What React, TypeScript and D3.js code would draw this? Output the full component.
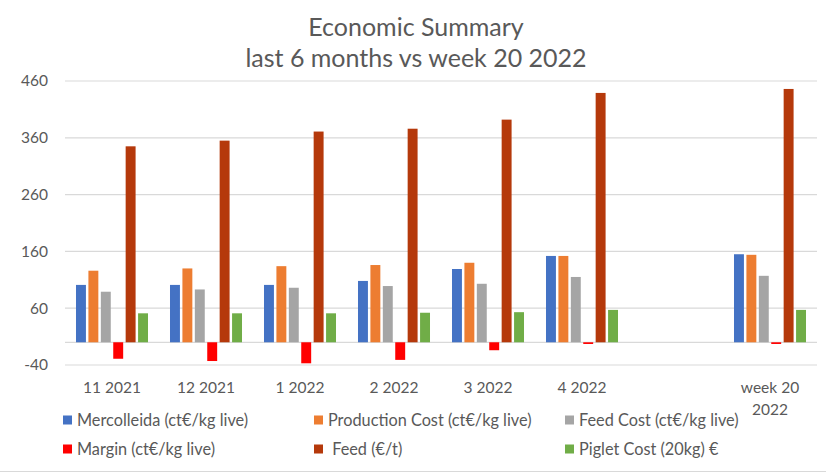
import React from "react";
import * as d3 from "d3";

const categories = ["11 2021", "12 2021", "1 2022", "2 2022", "3 2022", "4 2022", "", "week 20 2022"];
const categoryLines = [["11 2021"], ["12 2021"], ["1 2022"], ["2 2022"], ["3 2022"], ["4 2022"], [], ["week 20", "2022"]];

const mercolleida = [101, 101, 101, 108, 129, 152, null, 155];
const productionCost = [126, 130, 134, 136, 140, 152, null, 154];
const feedCost = [89, 93, 96, 99, 103, 115, null, 117];
const margin = [-29, -33, -37, -31, -14, -3, null, -3];
const feed = [345, 355, 371, 376, 392, 439, null, 446];
const pigletCost = [51, 51, 51, 52, 53, 57, null, 57];

const seriesNames = [
  "Mercolleida (ct€/kg live)",
  "Production Cost (ct€/kg live)",
  "Feed Cost (ct€/kg live)",
  "Margin (ct€/kg live)",
  " Feed (€/t)",
  "Piglet Cost (20kg) €",
];
const seriesValues = [mercolleida, productionCost, feedCost, margin, feed, pigletCost];
const colors = ["#4472C4", "#ED7D31", "#A5A5A5", "#FF0000", "#B5390B", "#70AD47"];
const yTicks = [-40, 60, 160, 260, 360, 460];

const W = 826;
const H = 473;
const FONT = "Lato, 'Open Sans', sans-serif";
const TXT = "#595959";

export default function App() {
  const x0 = d3
    .scaleBand<number>()
    .domain(categories.map((_, i) => i))
    .range([65, 817])
    .paddingInner(0.234)
    .paddingOuter(0.117);
  const x1 = d3
    .scaleBand<number>()
    .domain(seriesNames.map((_, i) => i))
    .range([0, x0.bandwidth()])
    .paddingInner(0.2);
  const y = d3.scaleLinear().domain([-40, 460]).range([365, 81]);

  const legendCols = [63, 314, 565];
  const legendRows = [420, 449];

  return (
    <div style={{ position: "absolute", left: 0, top: 0 }}>
      <svg width={W} height={H} style={{ display: "block", background: "#fff" }}>
        <text x={416} y={36} textAnchor="middle" fontFamily={FONT} fontSize={25} fill={TXT}>
          Economic Summary
        </text>
        <text x={416} y={67} textAnchor="middle" fontFamily={FONT} fontSize={25} fill={TXT}>
          last 6 months vs week 20 2022
        </text>

        {yTicks.map((t) => (
          <g key={t}>
            <line x1={65} x2={817} y1={y(t)} y2={y(t)} stroke="#D9D9D9" strokeWidth={1.2} />
            <text x={48} y={y(t)} dy="0.35em" textAnchor="end" fontFamily={FONT} fontSize={15.5} fill={TXT}>
              {t}
            </text>
          </g>
        ))}
        <line x1={65} x2={817} y1={y(0)} y2={y(0)} stroke="#D9D9D9" strokeWidth={1.2} />

        {categories.map((c, i) => (
          <g key={i} transform={`translate(${x0(i)},0)`}>
            {seriesValues.map((vals, s) => {
              const v = vals[i];
              if (v === null || v === undefined) return null;
              const y0 = y(0);
              const yv = y(v);
              return (
                <rect
                  key={s}
                  x={x1(s)}
                  width={x1.bandwidth()}
                  y={Math.min(y0, yv)}
                  height={Math.abs(yv - y0)}
                  fill={colors[s]}
                />
              );
            })}
          </g>
        ))}

        {categoryLines.map((lines, i) => (
          <text
            key={i}
            x={(x0(i) ?? 0) + x0.bandwidth() / 2}
            y={393}
            textAnchor="middle"
            fontFamily={FONT}
            fontSize={15.5}
            fill={TXT}
          >
            {lines.map((l, k) => (
              <tspan key={k} x={(x0(i) ?? 0) + x0.bandwidth() / 2} dy={k === 0 ? 0 : 22}>
                {l}
              </tspan>
            ))}
          </text>
        ))}

        {seriesNames.map((name, s) => {
          const cx = legendCols[s % 3];
          const cy = legendRows[Math.floor(s / 3)];
          return (
            <g key={s}>
              <rect x={cx} y={cy - 4.5} width={9} height={9} fill={colors[s]} />
              <text
                x={cx + 14}
                y={cy}
                dy="0.35em"
                fontFamily={FONT}
                fontSize={16.3}
                fill={TXT}
                style={{ whiteSpace: "pre" }}
              >
                {name}
              </text>
            </g>
          );
        })}

        <line x1={0} x2={W} y1={471.5} y2={471.5} stroke="#D9D9D9" strokeWidth={1} />
      </svg>
    </div>
  );
}
